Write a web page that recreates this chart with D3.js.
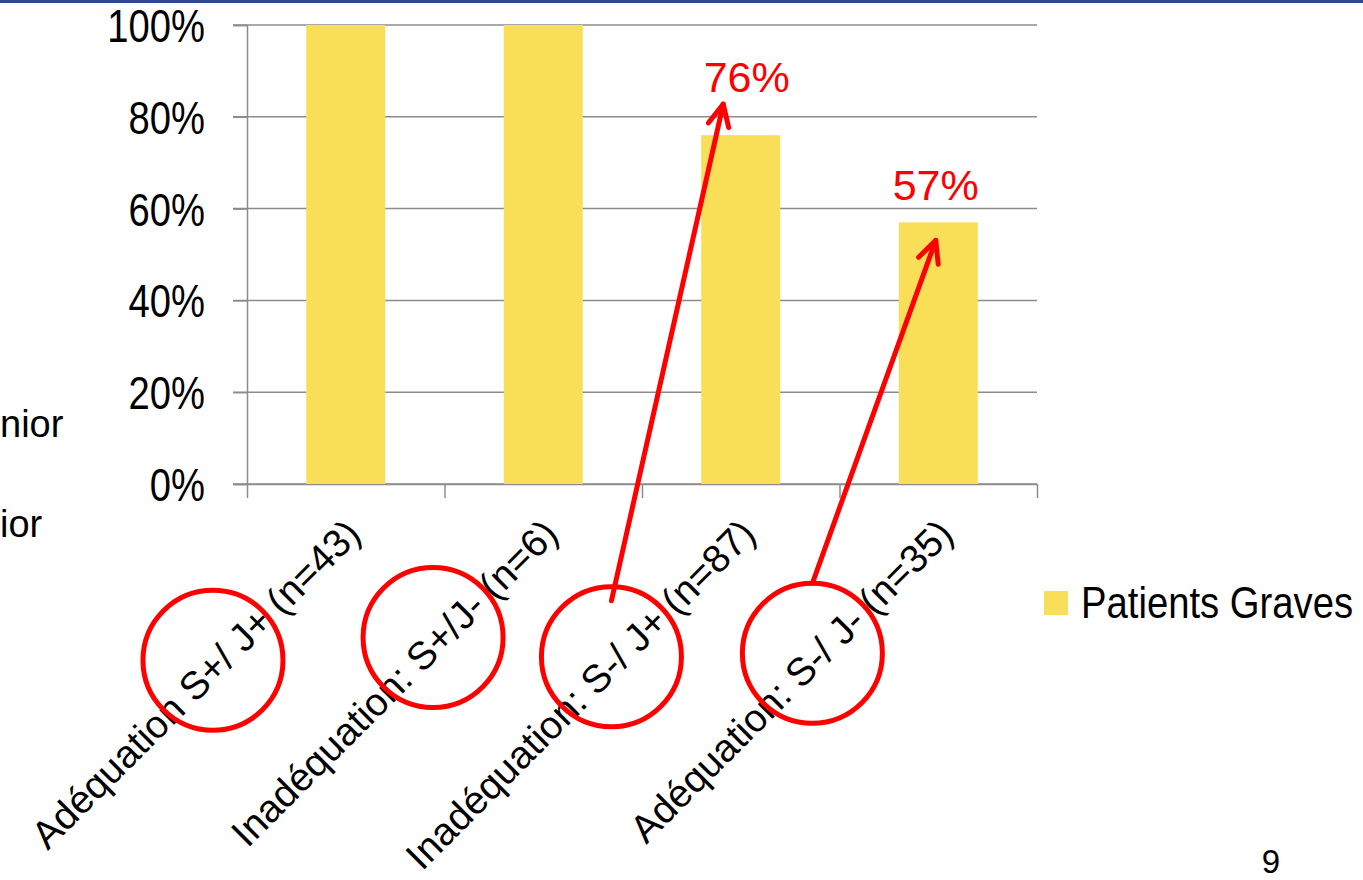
<!DOCTYPE html>
<html>
<head>
<meta charset="utf-8">
<script src="https://cdn.jsdelivr.net/npm/d3@7"></script>
<style>
  html, body { margin: 0; padding: 0; background: #ffffff; }
  svg { display: block; }
</style>
</head>
<body>
<svg id="chart" width="1363" height="880"></svg>
<script>
// Chart data
const categories = [
  "Adéquation S+/ J+ (n=43)",
  "Inadéquation: S+/J- (n=6)",
  "Inadéquation: S-/ J+ (n=87)",
  "Adéquation: S-/ J- (n=35)"
];
const highlights = ["S+/ J+", "S+/J-", "S-/ J+", "S-/ J-"];
const values = [1.00, 1.00, 0.76, 0.57];
const seriesName = "Patients Graves";
const yTicks = [0, 0.2, 0.4, 0.6, 0.8, 1.0];
const calloutIndex = [2, 3];
const sideTexts = ["nior", "ior"];
const pageNumber = "9";

const W = 1363, H = 880;
const svg = d3.select("#chart");

const SANS = "'Liberation Sans', Arial, sans-serif";
const RED = "#ff0000";
const BAR = "#f9df57";
const GRID = "#8c8c8c";

// condensed look for narrow text: squeeze glyphs to a fraction of natural width
function condense(sel, ratio) {
  sel.each(function () {
    const w = this.getComputedTextLength();
    d3.select(this).attr("textLength", w * ratio).attr("lengthAdjust", "spacingAndGlyphs");
  });
}

// slide header rule
svg.append("rect").attr("x", 0).attr("y", 0).attr("width", W).attr("height", 3).attr("fill", "#2d4a8a");

// plot area
const plot = { left: 247, right: 1037, top: 25, bottom: 484 };

const x = d3.scaleBand()
  .domain(categories)
  .range([plot.left, plot.right])
  .paddingInner(0.6)
  .paddingOuter(0.3);

const y = d3.scaleLinear().domain([0, 1]).range([plot.bottom, plot.top]);

// horizontal gridlines
svg.append("g")
  .selectAll("line")
  .data(yTicks)
  .join("line")
  .attr("x1", plot.left - 14)
  .attr("x2", plot.right)
  .attr("y1", d => y(d))
  .attr("y2", d => y(d))
  .attr("stroke", GRID)
  .attr("stroke-width", 1.5);

// y axis
const yAxis = svg.append("g")
  .attr("transform", `translate(${plot.left},0)`)
  .call(d3.axisLeft(y).tickValues(yTicks).tickFormat(d3.format(".0%")).tickSize(14).tickPadding(28));
yAxis.select(".domain").attr("stroke", GRID).attr("stroke-width", 1.5);
yAxis.selectAll(".tick line").attr("stroke", GRID).attr("stroke-width", 1.5);
yAxis.selectAll(".tick text")
  .attr("font-family", SANS)
  .attr("font-size", 46)
  .attr("fill", "#000")
  .attr("dy", "0.36em")
  .call(condense, 0.83);

// x axis with category boundary ticks
const bounds = d3.scaleLinear().domain([0, categories.length]).range([plot.left, plot.right]);
const xAxis = svg.append("g")
  .attr("transform", `translate(0,${plot.bottom})`)
  .call(d3.axisBottom(bounds).tickValues(d3.range(categories.length + 1)).tickFormat("").tickSize(14).tickSizeOuter(0));
xAxis.select(".domain").attr("stroke", GRID).attr("stroke-width", 1.5);
xAxis.selectAll(".tick line").attr("stroke", GRID).attr("stroke-width", 1.5);

// bars
svg.append("g")
  .selectAll("rect")
  .data(values)
  .join("rect")
  .attr("x", (d, i) => x(categories[i]))
  .attr("width", x.bandwidth())
  .attr("y", d => y(d))
  .attr("height", d => y(0) - y(d))
  .attr("fill", BAR);

// rotated category labels
const LABEL_SIZE = 39;
const labelG = svg.append("g");
const labels = labelG.selectAll("g")
  .data(categories)
  .join("g")
  .attr("transform", d => `translate(${x(d) + x.bandwidth() / 2 + 17},${plot.bottom + 52}) rotate(-45)`);
labels.append("text")
  .attr("text-anchor", "end")
  .attr("font-family", SANS)
  .attr("font-size", LABEL_SIZE)
  .attr("fill", "#000")
  .text(d => d);

// red rings around the S/J part of each label (hand-drawn, sitting a little low-left)
const RING_SHIFT = { x: -8, y: 10 };
const ringCenters = [];
labels.each(function (d, i) {
  const t = d3.select(this).select("text").node();
  const total = t.getComputedTextLength();
  const start = d.indexOf(highlights[i]);
  const pre = start > 0 ? t.getSubStringLength(0, start) : 0;
  const sub = t.getSubStringLength(start, highlights[i].length);
  const lx = -total + pre + sub / 2;
  const ly = -0.5 * LABEL_SIZE;
  const m = this.getCTM();
  ringCenters.push({
    x: m.a * lx + m.c * ly + m.e + RING_SHIFT.x,
    y: m.b * lx + m.d * ly + m.f + RING_SHIFT.y
  });
});

svg.append("g")
  .selectAll("circle")
  .data(ringCenters)
  .join("circle")
  .attr("cx", d => d.x)
  .attr("cy", d => d.y)
  .attr("r", 70)
  .attr("fill", "none")
  .attr("stroke", RED)
  .attr("stroke-width", 5);

// call-outs: value text and arrow from the ring up to it
const calloutLayout = [
  { labelDx: 6, labelDy: -43, tipDx: -17.5, tipDy: -31, tailDy: -56 },
  { labelDx: -2.5, labelDy: -22, tipDx: -2.5, tipDy: 18, tailDy: -70 }
];
const pct = d3.format(".0%");
const callG = svg.append("g");
calloutIndex.forEach((ci, k) => {
  const L = calloutLayout[k];
  const cx = x(categories[ci]) + x.bandwidth() / 2;
  const top = y(values[ci]);
  callG.append("text")
    .attr("x", cx + L.labelDx)
    .attr("y", top + L.labelDy)
    .attr("text-anchor", "middle")
    .attr("font-family", SANS)
    .attr("font-size", 43)
    .attr("fill", RED)
    .text(pct(values[ci]));

  const tail = { x: ringCenters[ci].x, y: ringCenters[ci].y + L.tailDy };
  const tip = { x: cx + L.tipDx, y: top + L.tipDy };
  const ang = Math.atan2(tip.y - tail.y, tip.x - tail.x);
  const len = 24, spread = Math.PI / 7;
  const a1 = { x: tip.x - len * Math.cos(ang - spread), y: tip.y - len * Math.sin(ang - spread) };
  const a2 = { x: tip.x - len * Math.cos(ang + spread), y: tip.y - len * Math.sin(ang + spread) };
  const line = d3.line();
  callG.append("path")
    .attr("d", line([[tail.x, tail.y], [tip.x, tip.y]]))
    .attr("stroke", RED).attr("stroke-width", 5).attr("fill", "none").attr("stroke-linecap", "round");
  callG.append("path")
    .attr("d", line([[a1.x, a1.y], [tip.x, tip.y], [a2.x, a2.y]]))
    .attr("stroke", RED).attr("stroke-width", 5).attr("fill", "none")
    .attr("stroke-linecap", "round").attr("stroke-linejoin", "round");
});

// legend (text squeezed horizontally for a narrow face)
const legend = svg.append("g").attr("transform", "translate(1044,591)");
legend.append("rect").attr("width", 24).attr("height", 24).attr("fill", BAR);
legend.append("g")
  .attr("transform", "translate(37,27) scale(0.85,1)")
  .append("text")
  .attr("font-family", SANS)
  .attr("font-size", 45)
  .attr("fill", "#000")
  .text(seriesName);

// slide text running in from the left edge
svg.append("g")
  .selectAll("text")
  .data(sideTexts)
  .join("text")
  .attr("x", 0)
  .attr("y", (d, i) => 437 + i * 100)
  .attr("font-family", SANS)
  .attr("font-size", 38)
  .attr("fill", "#000")
  .text(d => d);

// page number
svg.append("text")
  .attr("x", 1271).attr("y", 873)
  .attr("text-anchor", "middle")
  .attr("font-family", SANS)
  .attr("font-size", 33)
  .attr("fill", "#000")
  .text(pageNumber);
</script>
</body>
</html>
